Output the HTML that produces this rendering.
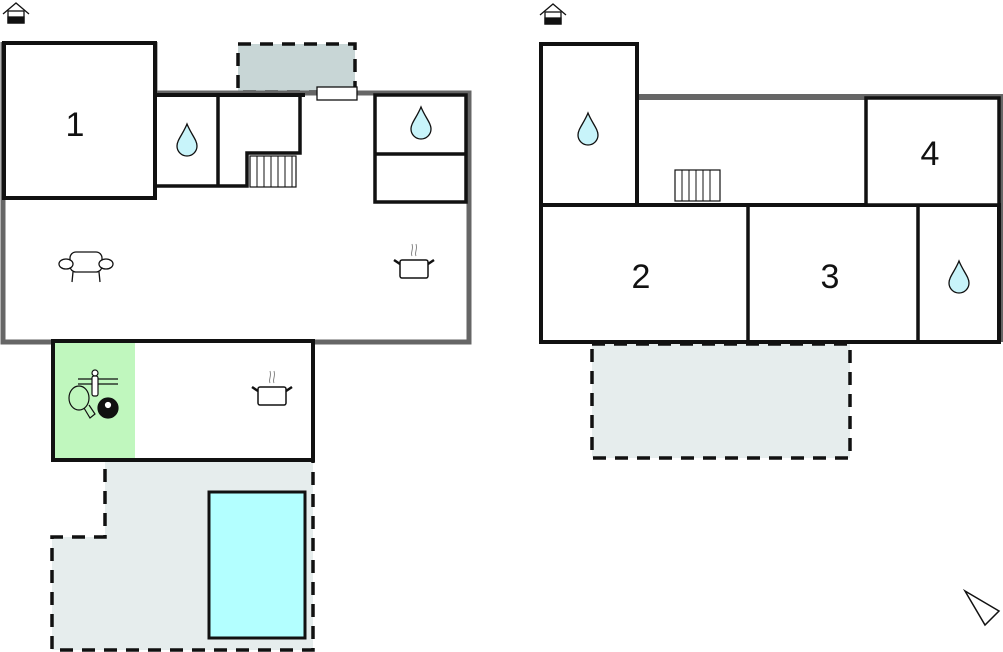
<!DOCTYPE html>
<html><head><meta charset="utf-8"><style>
html,body{margin:0;padding:0;background:#fff;}
svg{display:block;}
text{font-family:"Liberation Sans",sans-serif;font-size:34px;fill:#111;text-anchor:middle;}
</style></head><body>
<svg width="1003" height="652" viewBox="0 0 1003 652" xmlns="http://www.w3.org/2000/svg">
<defs>
<g id="drop"><path d="M0,-16 C4,-6 10,0 10,6 A10,10 0 0 1 -10,6 C-10,0 -4,-6 0,-16 Z" fill="#c8f4fa" stroke="#111" stroke-width="1.3"/></g>
<g id="pot" fill="none" stroke="#111" stroke-width="1.5">
<rect x="-13" y="-6" width="28" height="18" rx="2" fill="#fff"/>
<path d="M-13,-2 L-19,-6 M15,-2 L21,-6" stroke-width="2.5"/>
<path d="M-1,-10 c-2,-4 2,-6 0,-12 M3,-10 c-2,-4 2,-6 0,-12" stroke="#888" stroke-width="1"/>
</g>
<g id="house" fill="none" stroke="#111" stroke-width="1.3">
<path d="M-13,5 L0,-6 L13,5"/><rect x="-8" y="2" width="16" height="12" fill="#fff"/><rect x="-8" y="8" width="16" height="6" fill="#111"/>
</g>
</defs>

<!-- LEFT PLAN -->
<use href="#house" x="16" y="9"/>
<rect x="238" y="44" width="117" height="48" fill="#c8d6d6" stroke="#111" stroke-width="3.5" stroke-dasharray="13,9"/>
<path d="M105,460 L313,460 L313,650 L52,650 L52,537 L105,537 Z" fill="#e6eded" stroke="#111" stroke-width="3.5" stroke-dasharray="13,9"/>
<rect x="209" y="492" width="96" height="146" fill="#b3ffff" stroke="#111" stroke-width="3"/>
<path d="M3,42 L3,342 L469,342 L469,93 L155,93" fill="none" stroke="#666" stroke-width="5"/>
<path d="M155,93 L155,42" fill="none" stroke="#666" stroke-width="5"/>
<rect x="4" y="43" width="151" height="155" fill="#fff" stroke="#111" stroke-width="4"/>
<path d="M157,95 L300,95 L300,153 L247,153 L247,186 L157,186 M218,95 L218,186" fill="none" stroke="#111" stroke-width="3.5"/>
<path d="M155,95 L305,95" stroke="#111" stroke-width="4"/>
<rect x="250" y="156" width="46" height="31" fill="#fff" stroke="#111" stroke-width="1.2"/>
<path d="M257,156V187M264,156V187M271,156V187M278,156V187M285,156V187M292,156V187" stroke="#111" stroke-width="1"/>
<rect x="317" y="87" width="40" height="13" fill="#fff" stroke="#111" stroke-width="1.3"/>
<rect x="375" y="95" width="91" height="107" fill="#fff" stroke="#111" stroke-width="3.5"/>
<path d="M375,154 L466,154" stroke="#111" stroke-width="3.5"/>
<text x="75" y="136">1</text>
<use href="#drop" x="187" y="140"/>
<use href="#drop" x="421" y="123"/>
<g fill="#fff" stroke="#111" stroke-width="1.3">
<rect x="70" y="252" width="32" height="20" rx="6"/>
<ellipse cx="66" cy="264" rx="7" ry="5"/><ellipse cx="106" cy="264" rx="7" ry="5"/>
<path d="M73,272 L72,282 M99,272 L100,282" fill="none"/>
</g>
<use href="#pot" x="413" y="266"/>
<rect x="53" y="341" width="260" height="119" fill="#fff" stroke="#111" stroke-width="4"/>
<rect x="55" y="343" width="80" height="115" fill="#c0f7be"/>
<use href="#pot" x="271" y="393"/>
<g stroke="#111" fill="none" stroke-width="1.2">
<path d="M78,379 H118 M78,384 H118"/>
<circle cx="95" cy="373" r="3" fill="#fff"/>
<rect x="92" y="376" width="6" height="20" rx="2" fill="#fff"/>
<ellipse cx="79" cy="398" rx="10" ry="12" fill="none"/>
<path d="M84,408 L90,418 L95,414 L89,405"/>
<circle cx="108" cy="408" r="10" fill="#111"/>
<circle cx="108" cy="405" r="3.5" fill="#fff" stroke-width="0.8"/>
</g>

<!-- RIGHT PLAN -->
<use href="#house" x="553" y="10"/>
<rect x="592" y="344" width="258" height="114" fill="#e6eded" stroke="#111" stroke-width="3.5" stroke-dasharray="13,9"/>
<path d="M637,97 L1000,97 L1000,342" fill="none" stroke="#666" stroke-width="6"/>
<rect x="541" y="44" width="96" height="162" fill="#fff" stroke="#111" stroke-width="4"/>
<rect x="541" y="205" width="458" height="137" fill="#fff" stroke="#111" stroke-width="4"/>
<rect x="866" y="98" width="133" height="107" fill="#fff" stroke="#111" stroke-width="3.5"/>
<path d="M637,100 V206 M748,206 V342 M918,206 V342" stroke="#111" stroke-width="3.5"/>
<rect x="675" y="170" width="45" height="31" fill="#fff" stroke="#111" stroke-width="1.2"/>
<path d="M682,170V201M689,170V201M696,170V201M703,170V201M710,170V201" stroke="#111" stroke-width="1"/>
<text x="641" y="288">2</text>
<text x="830" y="288">3</text>
<text x="930" y="165">4</text>
<use href="#drop" x="588" y="129"/>
<use href="#drop" x="959" y="277"/>
<path d="M965,591 L999,611 L985,625 Z" fill="#fff" stroke="#111" stroke-width="1.5"/>
</svg>
</body></html>
